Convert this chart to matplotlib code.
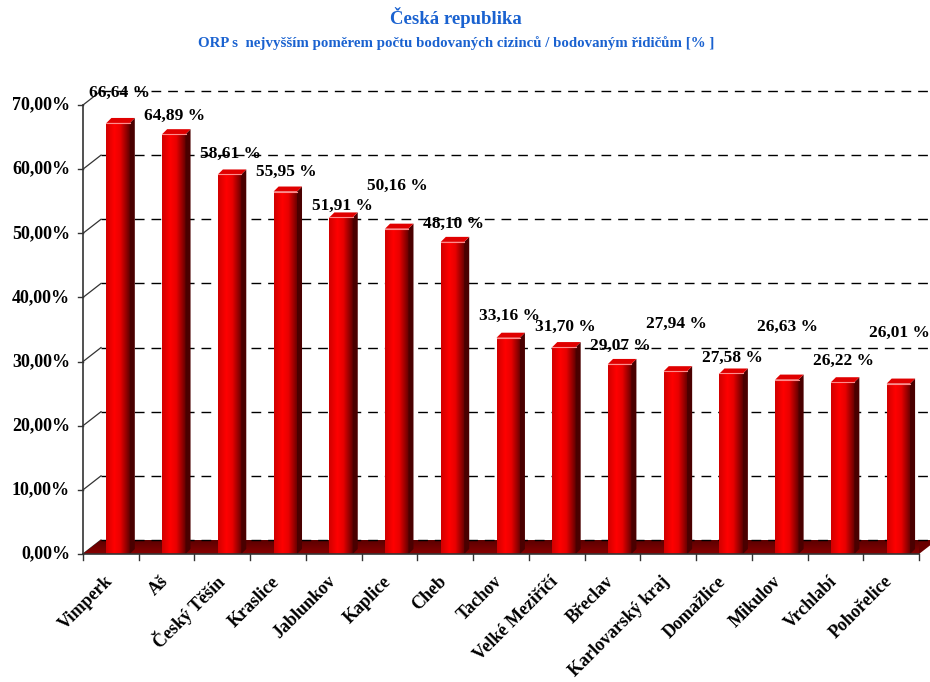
import numpy as np
import matplotlib.pyplot as plt
from matplotlib.patches import Polygon

# ------------------------------------------------------------
# Data
# ------------------------------------------------------------
regions = ["Vimperk", "Aš", "Český Těšín", "Kraslice", "Jablunkov",
           "Kaplice", "Cheb", "Tachov", "Velké Meziříčí", "Břeclav",
           "Karlovarský kraj", "Domažlice", "Mikulov", "Vrchlabí",
           "Pohořelice"]
ratios = [66.64, 64.89, 58.61, 55.95, 51.91, 50.16, 48.10, 33.16,
          31.70, 29.07, 27.94, 27.58, 26.63, 26.22, 26.01]
y_ticks = [0, 10, 20, 30, 40, 50, 60, 70]

title = "Česká republika"
subtitle = "ORP s  nejvyšším poměrem počtu bodovaných cizinců / bodovaným řidičům [% ]"

# label height above bar top (pixels) - Excel placed them rather unevenly
label_lift = [30, 18, 21, 20, 12, 43, 18, 22, 20, 18, 47, 16, 53, 21, 51]

# ------------------------------------------------------------
# Layout / style
# ------------------------------------------------------------
FONT = "Liberation Serif"
BLUE = "#1a62d0"
W, H = 930, 682
ax_left, ax_bottom, ax_w, ax_h = 83, 128, 836, 449   # pixels

n = len(regions)
px_x = n / ax_w          # data units per pixel
px_y = 70.0 / ax_h
DX, DY = 18 * px_x, 14 * px_y      # depth of the 3D box
SX, SY = 5 * px_x, 5 * px_y        # depth of each bar
LIFT = 3.6 * px_y
BAR_X0, BAR_W = 0.42, 0.42

fig = plt.figure(figsize=(W / 100, H / 100), dpi=100)
ax = fig.add_axes([ax_left / W, ax_bottom / H, ax_w / W, ax_h / H])
ax.set_xlim(0, n)
ax.set_ylim(0, 70)
ax.axis("off")


def hx(c):
    c = c.lstrip("#")
    return tuple(int(c[i:i + 2], 16) / 255 for i in (0, 2, 4))


def gradient_fill(patch, colors, stops, horizontal=True, zorder=3):
    """Fill a patch with a linear gradient (clipped image)."""
    t = np.linspace(0, 1, 256)
    rgb = np.array([np.interp(t, stops, [c[k] for c in colors]) for k in range(3)]).T
    img = rgb[np.newaxis, :, :] if horizontal else rgb[:, np.newaxis, :]
    verts = patch.get_path().transformed(patch.get_patch_transform()).vertices
    x0, y0 = verts.min(axis=0)
    x1, y1 = verts.max(axis=0)
    im = ax.imshow(img, extent=(x0, x1, y0, y1), origin="lower",
                   aspect="auto", interpolation="bilinear", zorder=zorder)
    im.set_clip_path(patch)
    im.set_clip_on(True)


# back wall gridlines (dashed) + tick marks + labels
for t in y_ticks:
    ax.plot([DX, n + DX], [t + DY, t + DY], color="black", lw=1.0,
            dashes=(7, 5), clip_on=False, zorder=2.5)
    ax.plot([0, DX], [t, t + DY], color="#333333", lw=0.9,
            clip_on=False, zorder=1)
    ax.plot([-5 * px_x, 0], [t, t], color="#333333", lw=1.0,
            clip_on=False, zorder=1)
    ax.text(-13 * px_x, t, f"{t:.2f}%".replace(".", ","), ha="right",
            va="center", fontsize=13, fontweight="bold", family=FONT)

# floor
floor = Polygon([(0, 0), (n, 0), (n + DX, DY), (DX, DY)], closed=True,
                facecolor="#6a0000", edgecolor="none", clip_on=False, zorder=2)
ax.add_patch(floor)
gradient_fill(floor, [hx("#8a0000"), hx("#5a0000")], [0, 1],
              horizontal=False, zorder=2)

# axes lines
ax.plot([0, 0], [0, 70], color="#333333", lw=1.2, clip_on=False, zorder=6)
ax.plot([0, n], [0, 0], color="#333333", lw=1.2, clip_on=False, zorder=6)
for i in range(n + 1):
    ax.plot([i, i], [0, -6 * px_y], color="#333333", lw=1.0,
            clip_on=False, zorder=6)

# bars
xs = np.arange(n) + BAR_X0
tops = np.array(ratios) + LIFT
bars = ax.bar(xs, tops, width=BAR_W, align="edge", color="#ff0000",
              edgecolor="none", zorder=4)
front_cols = [hx("#d00000"), hx("#ff0000"), hx("#e80000"), hx("#600000")]
for b, x0, top in zip(bars, xs, tops):
    x1 = x0 + BAR_W
    gradient_fill(b, front_cols, [0, 0.35, 0.6, 1.0], zorder=4)
    side = Polygon([(x1, 0), (x1, top), (x1 + SX, top + SY), (x1 + SX, SY)],
                   closed=True, facecolor="#4a0000", edgecolor="none", zorder=4)
    ax.add_patch(side)
    lid = Polygon([(x0, top), (x1, top), (x1 + SX, top + SY), (x0 + SX, top + SY)],
                  closed=True, facecolor="#e00000", edgecolor="none", zorder=5)
    ax.add_patch(lid)
    ax.plot([x0, x1], [top, top], color="#ff8c8c", lw=0.8, zorder=5)

ax.set_xlim(0, n)
ax.set_ylim(0, 70)

# value labels
for x0, top, v, lift in zip(xs, tops, ratios, label_lift):
    ax.annotate(f"{v:.2f} %".replace(".", ","), (x0 + BAR_W / 2, top),
                xytext=(1, lift), textcoords="offset pixels", ha="center",
                va="center", fontsize=12.5, fontweight="bold", family=FONT,
                zorder=7, annotation_clip=False)

# category labels
for i, name in enumerate(regions):
    ax.annotate(name, (i + 0.5, 0), xytext=(-1, -25), textcoords="offset pixels",
                ha="right", va="center", rotation=45, rotation_mode="anchor",
                fontsize=13, fontweight="bold", family=FONT,
                annotation_clip=False)

fig.text(0.49, 1 - 17 / H, title, ha="center", va="center", color=BLUE,
         fontsize=13.5, fontweight="bold", family=FONT)
fig.text(0.49, 1 - 43 / H, subtitle, ha="center", va="center", color=BLUE,
         fontsize=10.7, fontweight="bold", family=FONT)

fig.savefig("out.png", dpi=100)
